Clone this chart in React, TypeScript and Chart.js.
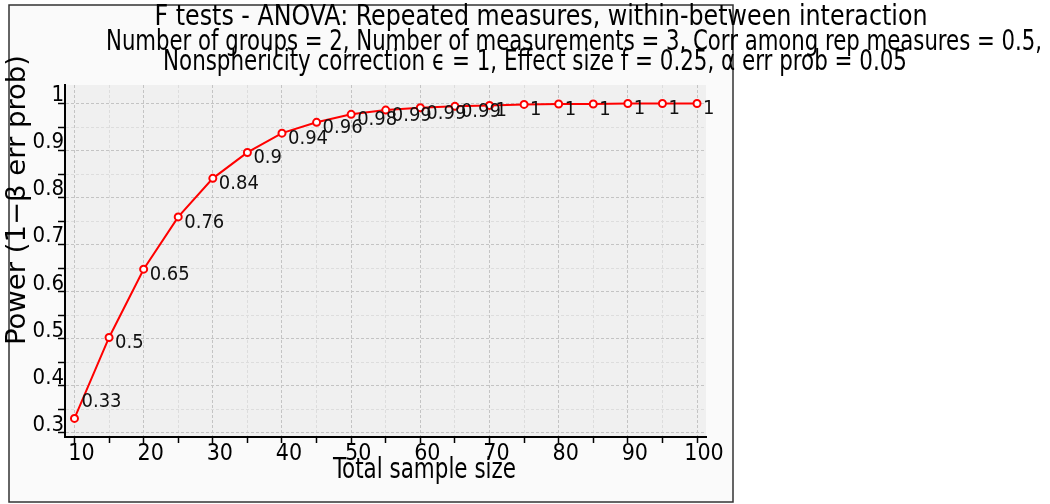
import React, { useEffect, useRef } from "react";
import { Chart, registerables } from "chart.js";

Chart.register(...registerables);

const sampleSizes = [10, 15, 20, 25, 30, 35, 40, 45, 50, 55, 60, 65, 70, 75, 80, 85, 90, 95, 100];
const power = [0.331, 0.503, 0.648, 0.759, 0.841, 0.896, 0.937, 0.96, 0.977, 0.986, 0.991, 0.994, 0.996, 0.998, 0.999, 0.999, 1.0, 1.0, 1.0];

const titleLines = [
  "F tests - ANOVA: Repeated measures, within-between interaction",
  "Number of groups = 2, Number of measurements = 3, Corr among rep measures = 0.5,",
  "Nonsphericity correction ϵ = 1, Effect size f = 0.25, α err prob = 0.05",
];
const xAxisTitle = "Total sample size";
const yAxisTitle = "Power (1−β err prob)";

const FONT = "'Liberation Sans Narrow', 'DejaVu Sans Condensed', 'Noto Sans', sans-serif";

function fmt(v: number): string {
  return Number(v.toFixed(2)).toString();
}

function drawFit(
  ctx: CanvasRenderingContext2D,
  text: string,
  cx: number,
  base: number,
  width: number,
  size: number,
  rotate = false
) {
  ctx.save();
  ctx.font = `${size}px ${FONT}`;
  ctx.fillStyle = "#000";
  ctx.textBaseline = "alphabetic";
  ctx.textAlign = "center";
  const w = ctx.measureText(text).width;
  ctx.translate(cx, base);
  if (rotate) ctx.rotate(-Math.PI / 2);
  ctx.scale(width / w, 1);
  ctx.fillText(text, 0, 0);
  ctx.restore();
}

const framePlugin = {
  id: "frame",
  beforeDraw(chart: any) {
    const { ctx, chartArea } = chart;
    ctx.save();
    ctx.fillStyle = "#ffffff";
    ctx.fillRect(0, 0, chart.width, chart.height);
    ctx.fillStyle = "#fafafa";
    ctx.fillRect(9, 5, 724, 497);
    ctx.strokeStyle = "#333";
    ctx.lineWidth = 1.5;
    ctx.strokeRect(9, 5, 724, 497);
    ctx.fillStyle = "#f0f0f0";
    ctx.fillRect(chartArea.left, chartArea.top, chartArea.right - chartArea.left, chartArea.bottom - chartArea.top);
    ctx.restore();
  },
  afterDatasetsDraw(chart: any) {
    const { ctx } = chart;
    const meta = chart.getDatasetMeta(0);
    ctx.save();
    ctx.font = `20px ${FONT}`;
    ctx.fillStyle = "#111";
    ctx.textAlign = "left";
    ctx.textBaseline = "alphabetic";
    meta.data.forEach((pt: any, i: number) => {
      const label = fmt(power[i]);
      if (i === 0) ctx.fillText(label, pt.x + 7, pt.y - 11);
      else ctx.fillText(label, pt.x + 6, pt.y + 11);
    });
    ctx.restore();
  },
  afterDraw(chart: any) {
    const ctx = chart.ctx as CanvasRenderingContext2D;
    drawFit(ctx, titleLines[0], 541, 25, 773, 29);
    drawFit(ctx, titleLines[1], 574, 50, 936, 29);
    drawFit(ctx, titleLines[2], 535, 70, 744, 29);
    drawFit(ctx, xAxisTitle, 424.5, 478, 183, 28);
    drawFit(ctx, yAxisTitle, 25, 200, 290, 27, true);
  },
};

const isMajorY = (v: number) => Math.abs(v * 10 - Math.round(v * 10)) < 1e-6;
const isMajorX = (v: number) => Math.abs(v / 10 - Math.round(v / 10)) < 1e-6;

export default function App() {
  const ref = useRef<HTMLCanvasElement | null>(null);
  useEffect(() => {
    if (!ref.current) return;
    const chart = new Chart(ref.current, {
      type: "line",
      data: {
        datasets: [
          {
            data: sampleSizes.map((n, i) => ({ x: n, y: power[i] })),
            borderColor: "#ff0000",
            borderWidth: 2,
            pointRadius: 3.5,
            pointBorderWidth: 2,
            pointBorderColor: "#ff0000",
            pointBackgroundColor: "#ffffff",
            tension: 0,
            fill: false,
          },
        ],
      },
      plugins: [framePlugin],
      options: {
        animation: false,
        responsive: false,
        maintainAspectRatio: false,
        layout: { padding: { left: 0, right: 344, top: 85, bottom: 0 } },
        plugins: { legend: { display: false }, title: { display: false }, tooltip: { enabled: false } },
        scales: {
          x: {
            type: "linear",
            min: 8.63,
            max: 101.3,
            afterFit: (s: any) => {
              s.height = 67;
            },
            ticks: {
              stepSize: 5,
              includeBounds: false,
              autoSkip: false,
              maxRotation: 0,
              padding: -3,
              labelOffset: 7,
              color: "#000",
              font: { family: FONT, size: 23 },
              callback: (v: any) => (isMajorX(Number(v)) ? String(Math.round(Number(v))) : ""),
            },
            grid: {
              color: (c: any) => (isMajorX(c.tick?.value ?? 0) ? "#c4c4c4" : "#dddddd"),
              lineWidth: 1,
              tickLength: 6,
              tickColor: "#000",
              tickWidth: 1.5,
              tickBorderDash: [],
            },
            border: { display: true, color: "#000", width: 2, dash: [3, 2] },
          },
          y: {
            type: "linear",
            min: 0.2915,
            max: 1.0393,
            afterFit: (s: any) => {
              s.width = 65;
            },
            ticks: {
              stepSize: 0.05,
              includeBounds: false,
              autoSkip: false,
              padding: -6,
              labelOffset: -8,
              color: "#000",
              font: { family: FONT, size: 22 },
              callback: (v: any) => (isMajorY(Number(v)) ? fmt(Number(v)) : ""),
            },
            grid: {
              color: (c: any) => (isMajorY(c.tick?.value ?? 0) ? "#c4c4c4" : "#dddddd"),
              lineWidth: 1,
              tickLength: 7,
              tickColor: "#000",
              tickWidth: 1.5,
              tickBorderDash: [],
            },
            border: { display: true, color: "#000", width: 2, dash: [3, 2] },
          },
        },
      },
    } as any);
    return () => chart.destroy();
  }, []);
  return (
    <div style={{ position: "fixed", left: 0, top: 0, width: 1050, height: 504 }}>
      <canvas ref={ref} width={1050} height={504} style={{ display: "block", width: 1050, height: 504 }} />
    </div>
  );
}
